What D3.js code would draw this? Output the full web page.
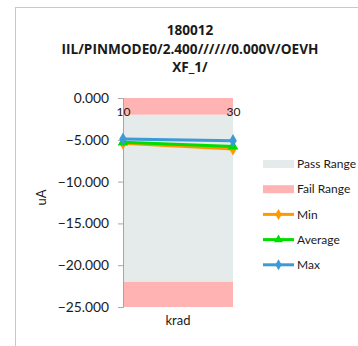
<!DOCTYPE html>
<html>
<head>
<meta charset="utf-8">
<script src="https://cdn.jsdelivr.net/npm/d3@7"></script>
<style>
  html, body { margin: 0; padding: 0; background: #fff; }
  svg { display: block; font-family: Lato, "Open Sans", sans-serif; }
</style>
</head>
<body>
<div id="chart"></div>
<script>
// Chart data
const titleLines = ["180012", "IIL/PINMODE0/2.400//////0.000V/OEVH", "XF_1/"];
const categories = ["10", "30"];
const minValues = [-5.4, -6.1];
const avgValues = [-5.3, -5.8];
const maxValues = [-4.9, -5.1];
const passRange = [-22, -2];
const failRanges = [[-2, 0], [-25, -22]];
const yTicks = [0, -5, -10, -15, -20, -25];
const yDomain = [-25, 0];
const yLabel = "uA";
const xLabel = "krad";

const W = 358, H = 346;
const plot = { left: 123, right: 233, top: 98, bottom: 307 };

const svg = d3.select("#chart").append("svg")
  .attr("width", W).attr("height", H);

// outer frame
svg.append("rect")
  .attr("x", 15.5).attr("y", 7.5)
  .attr("width", W).attr("height", H)
  .attr("fill", "none").attr("stroke", "#c8c8c8").attr("stroke-width", 1);

// title
svg.append("g").selectAll("text").data(titleLines).join("text")
  .attr("x", 190).attr("y", (d, i) => 35 + i * 18.5)
  .attr("text-anchor", "middle")
  .attr("font-family", "'Open Sans', sans-serif")
  .attr("font-weight", "bold").attr("font-size", 13.6)
  .attr("fill", "#1a1a1a")
  .text(d => d);

const x = d3.scalePoint().domain(categories).range([plot.left, plot.right]);
const y = d3.scaleLinear().domain(yDomain).range([plot.bottom, plot.top]);

// pass / fail bands
svg.append("rect")
  .attr("x", plot.left).attr("width", plot.right - plot.left)
  .attr("y", y(passRange[1])).attr("height", y(passRange[0]) - y(passRange[1]))
  .attr("fill", "#e5eaea");
svg.append("g").selectAll("rect").data(failRanges).join("rect")
  .attr("x", plot.left).attr("width", plot.right - plot.left)
  .attr("y", d => y(d[1])).attr("height", d => y(d[0]) - y(d[1]))
  .attr("fill", "#ffb3b3");

// y axis
const yAxis = d3.axisLeft(y).tickValues(yTicks).tickFormat(d3.format(".3f")).tickSize(5).tickPadding(9);
const gy = svg.append("g").attr("transform", `translate(${plot.left},0)`).call(yAxis);
gy.select(".domain").attr("stroke", "#a6a6a6");
gy.selectAll(".tick line").attr("stroke", "#a6a6a6");
gy.selectAll(".tick text").attr("font-size", 13.8).attr("fill", "#1a1a1a")
  .attr("font-family", "Lato, 'Open Sans', sans-serif");

// x axis at value 0
const xAxis = d3.axisBottom(x).tickSize(0).tickPadding(9);
const gx = svg.append("g").attr("transform", `translate(0,${y(0)})`).call(xAxis);
gx.select(".domain").remove();
gx.selectAll(".tick text").attr("font-size", 12).attr("fill", "#1a1a1a")
  .attr("font-family", "Lato, 'Open Sans', sans-serif");

// axis titles
svg.append("text")
  .attr("transform", `translate(46,${(plot.top + plot.bottom) / 2 - 5}) rotate(-90)`)
  .attr("text-anchor", "middle").attr("font-size", 13).attr("fill", "#1a1a1a")
  .text(yLabel);
svg.append("text")
  .attr("x", (plot.left + plot.right) / 2).attr("y", 325)
  .attr("text-anchor", "middle").attr("font-size", 13).attr("fill", "#1a1a1a")
  .text(xLabel);

// series
const series = [
  { name: "Min", values: minValues, color: "#ff9900", symbol: d3.symbolDiamond },
  { name: "Average", values: avgValues, color: "#00dd00", symbol: d3.symbolTriangle },
  { name: "Max", values: maxValues, color: "#3c9ad6", symbol: d3.symbolDiamond }
];
const line = d3.line().x((d, i) => x(categories[i])).y(d => y(d));

series.forEach(s => {
  svg.append("path").datum(s.values)
    .attr("d", line).attr("fill", "none")
    .attr("stroke", s.color).attr("stroke-width", 3);
  svg.append("g").selectAll("path").data(s.values).join("path")
    .attr("transform", (d, i) => `translate(${x(categories[i])},${y(d)})`)
    .attr("d", d3.symbol().type(s.symbol).size(50))
    .attr("fill", s.color);
});

// legend
const legendItems = [
  { name: "Pass Range", type: "rect", color: "#e5eaea" },
  { name: "Fail Range", type: "rect", color: "#ffb3b3" },
  { name: "Min", type: "line", color: "#ff9900", symbol: d3.symbolDiamond },
  { name: "Average", type: "line", color: "#00dd00", symbol: d3.symbolTriangle },
  { name: "Max", type: "line", color: "#3c9ad6", symbol: d3.symbolDiamond }
];
const lg = svg.append("g").selectAll("g").data(legendItems).join("g")
  .attr("transform", (d, i) => `translate(263,${164 + i * 25.2})`);
lg.filter(d => d.type === "rect").append("rect")
  .attr("x", 0).attr("y", -4).attr("width", 31).attr("height", 8)
  .attr("fill", d => d.color);
lg.filter(d => d.type === "line").append("line")
  .attr("x1", 0).attr("x2", 31).attr("y1", 0).attr("y2", 0)
  .attr("stroke", d => d.color).attr("stroke-width", 3);
lg.filter(d => d.type === "line").append("path")
  .attr("transform", "translate(15.5,0)")
  .attr("d", d => d3.symbol().type(d.symbol).size(35)())
  .attr("fill", d => d.color);
lg.append("text")
  .attr("x", 34).attr("y", 0).attr("dy", "0.35em")
  .attr("font-size", 12).attr("fill", "#1a1a1a")
  .text(d => d.name);
</script>
</body>
</html>
